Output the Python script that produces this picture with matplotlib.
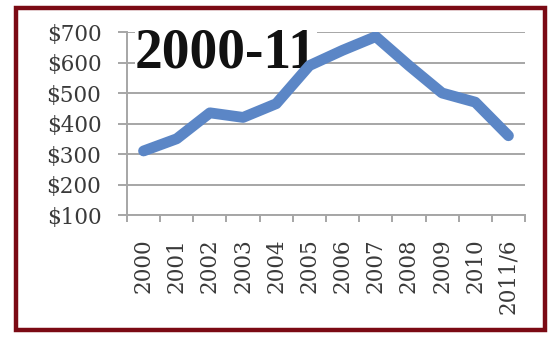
import matplotlib.pyplot as plt
import numpy as np
from matplotlib.patches import Rectangle

years = ['2000', '2001', '2002', '2003', '2004', '2005', '2006',
         '2007', '2008', '2009', '2010', '2011/6']
price = [310, 350, 435, 420, 465, 590, 640, 685, 590, 500, 470, 360]
yticks = [100, 200, 300, 400, 500, 600, 700]

plt.rcParams['font.family'] = ['DejaVu Serif']

fig = plt.figure(figsize=(5.49, 3.37), dpi=100)
fig.patches.append(Rectangle((0.029, 0.021), 0.964, 0.955, transform=fig.transFigure,
                             fill=False, edgecolor='#7b0a14', linewidth=3.2))

ax = fig.add_axes([0.2313, 0.362, 0.725, 0.543])
x = np.arange(len(years))
ax.plot(x, price, color='#5b86c6', linewidth=7.8, solid_capstyle='round',
        solid_joinstyle='round', zorder=3)

ax.set_xlim(-0.5, len(years) - 0.5)
ax.set_ylim(100, 700)
ax.set_yticks(yticks)
ax.set_yticklabels(['$%d' % v for v in yticks])
ax.set_xticks(x)
ax.set_xticklabels(years, rotation=90)
ax.set_xticks(np.arange(-0.5, len(years)), minor=True)

ax.grid(axis='y', color='#a6a6a6', linewidth=1.4)
ax.set_axisbelow(True)
for s in ['top', 'right']:
    ax.spines[s].set_visible(False)
for s in ['left', 'bottom']:
    ax.spines[s].set_color('#a6a6a6')
    ax.spines[s].set_linewidth(1.4)

ax.tick_params(axis='y', length=6.5, width=1.4, color='#a6a6a6', pad=12,
               labelsize=15.5, labelcolor='#3a3a3a')
ax.tick_params(axis='x', which='major', length=0, pad=17, labelsize=15.5,
               labelcolor='#3a3a3a')
ax.tick_params(axis='x', which='minor', length=5, width=1.4, color='#a6a6a6')

ax.text(0.02, 0.885, '2000-11', transform=ax.transAxes, fontsize=40,
        fontweight='bold', color='#111111', va='center', ha='left',
        family='Liberation Serif', zorder=2,
        bbox=dict(facecolor='white', edgecolor='none', pad=0))

plt.savefig('out.png', dpi=100)
